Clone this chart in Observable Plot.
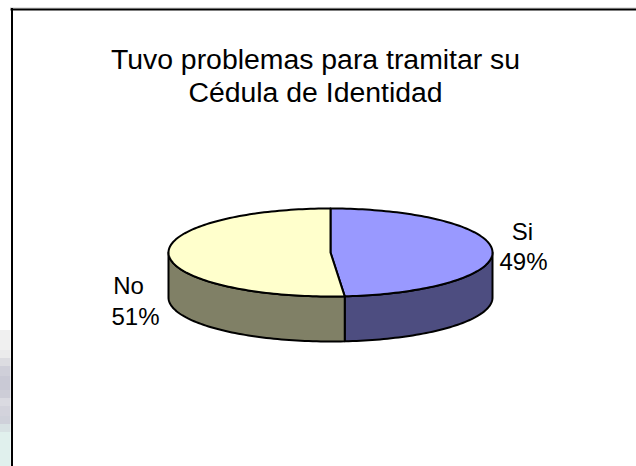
<!DOCTYPE html>
<html>
<head>
<meta charset="utf-8">
<script src="https://cdn.jsdelivr.net/npm/d3@7"></script>
<script src="https://cdn.jsdelivr.net/npm/@observablehq/plot@0.6"></script>
<style>
html,body{margin:0;padding:0;background:#fff;overflow:hidden}
</style>
</head>
<body>
<div id="chart"></div>
<script>
const categories = ["Si", "No"];
const shares = [48.6, 51.4];
const topColors = ["#9999ff", "#ffffcc"];
const sideColors = ["#4d4d80", "#808066"];
const titleLines = ["Tuvo problemas para tramitar su", "Cédula de Identidad"];
const stripY = [330, 350, 358, 366, 376, 390, 398, 406, 416, 424, 432, 466];
const stripColors = ["#f0f0f0", "#ebebec", "#dcdce1", "#cfcfd9", "#c9c9d5", "#cdcdd7", "#dadae1", "#d3d3dc", "#cfd1da", "#d8e2e4", "#e0f0ed"];

const W = 636, H = 466, cx = 330, cy = 252, rx = 162, ry = 44;
const depth = 45 / ry;
// page pixels to unit-pie coordinates
const ux = px => (px - cx) / rx;
const uy = py => (cy - py) / ry;

function arc(a0, a1, dy = 0) {
  const n = Math.max(2, Math.ceil(Math.abs(a1 - a0) * 40));
  return d3.range(n + 1).map(i => {
    const a = a0 + (a1 - a0) * i / n;
    return {x: Math.sin(a), y: Math.cos(a) + dy};
  });
}
let acc = 0;
const slices = categories.map((name, i) => {
  const a0 = acc / 100 * 2 * Math.PI;
  acc += shares[i];
  return {name, a0, a1: acc / 100 * 2 * Math.PI, share: shares[i]};
});
const topPoly = s => [{x: 0, y: 0}, ...arc(s.a0, s.a1)];
// the visible wall of a slice is its part of the front half of the ellipse
const wall = s => {
  const a0 = Math.max(s.a0, Math.PI / 2), a1 = Math.min(s.a1, 3 * Math.PI / 2);
  return [...arc(a0, a1), ...arc(a1, a0, -depth)];
};
const outline = {x: "x", y: "y", stroke: "#000", strokeWidth: 2, strokeLinejoin: "round", curve: "linear-closed"};
const font = {fontFamily: "Liberation Sans, Arial, sans-serif", fill: "#000", textAnchor: "middle", lineAnchor: "bottom"};

const titleRows = titleLines.map((t, i) => ({t, x: ux(315), y: uy([68, 101][i])}));
const labelRows = [
  {t: categories[0], x: ux(522), y: uy(239)},
  {t: Math.round(shares[0]) + "%", x: ux(523), y: uy(269)},
  {t: categories[1], x: ux(128), y: uy(293)},
  {t: Math.round(shares[1]) + "%", x: ux(135), y: uy(324)}
];
const strip = stripColors.map((fill, i) => ({fill, y1: uy(stripY[i]), y2: uy(stripY[i + 1])}));

const plot = Plot.plot({
  width: W, height: H, margin: 0,
  x: {domain: [ux(0), ux(W)], range: [0, W], axis: null},
  y: {domain: [uy(0), uy(H)], range: [0, H], axis: null},
  marks: [
    Plot.rect(strip, {x1: ux(0), x2: ux(10.5), y1: "y1", y2: "y2", fill: "fill"}),
    Plot.ruleY([uy(7.5)], {x1: ux(10), x2: ux(W), stroke: "#c8c8c8", strokeWidth: 1}),
    Plot.ruleY([uy(9)], {x1: ux(10.5), x2: ux(W), stroke: "#000", strokeWidth: 2}),
    Plot.ruleX([ux(11.5)], {y1: uy(8), y2: uy(H), stroke: "#000", strokeWidth: 2}),
    ...slices.map((s, i) => Plot.line(wall(s), {...outline, fill: sideColors[i]})),
    ...slices.map((s, i) => Plot.line(topPoly(s), {...outline, fill: topColors[i]})),
    Plot.text(titleRows, {...font, x: "x", y: "y", text: "t", fontSize: 28.4}),
    Plot.text(labelRows, {...font, x: "x", y: "y", text: "t", fontSize: 24})
  ]
});
document.getElementById("chart").appendChild(plot);
</script>
</body>
</html>
